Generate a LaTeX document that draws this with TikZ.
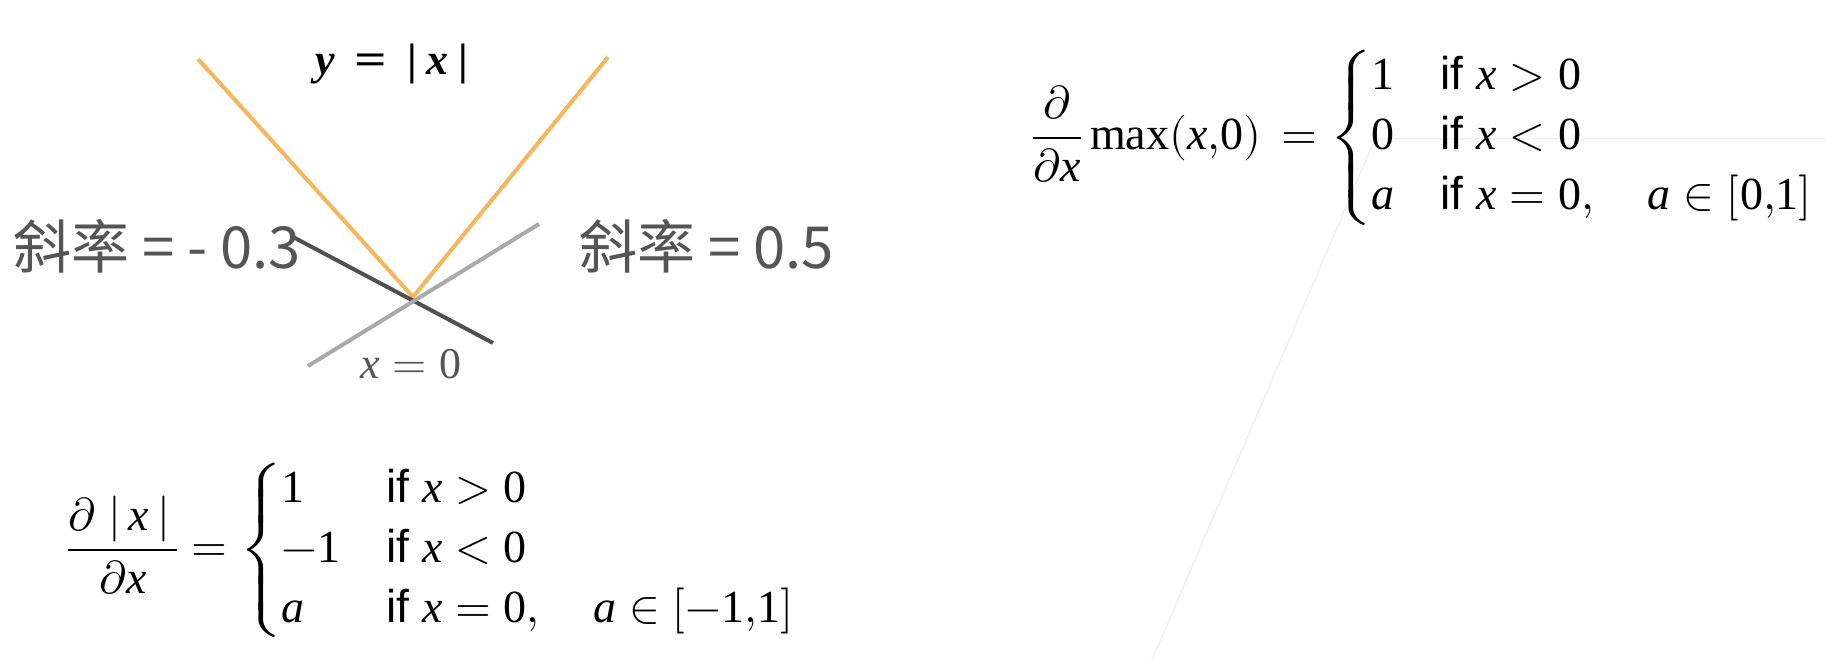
\documentclass[tikz,border=0pt]{standalone}
\usepackage{amsmath}
\usepackage{graphicx}
\usepackage{fontspec}
\usepackage{unicode-math}
\setmainfont{Liberation Serif}
\setmathfont{Latin Modern Math}
\setmathfont{Liberation Serif Italic}[range=it/{latin,Latin}]
\setmathfont{Liberation Serif}[range=up/{num}]
\newfontfamily\cjk{Noto Sans CJK SC}
\newfontfamily\casefont{Liberation Sans}
\usepackage{tikz}
\usetikzlibrary{positioning}
\definecolor{absorange}{HTML}{F8B65C}
\definecolor{subdark}{HTML}{505050}
\definecolor{sublight}{HTML}{AAAAAA}
\definecolor{labelgray}{HTML}{555555}
\definecolor{faintgray}{HTML}{EBEBEB}
\newcommand{\cif}{\text{\casefont if }}

\begin{document}
\begin{tikzpicture}[x=1pt,y=-1pt,every node/.style={inner sep=0pt},
  curve/.style={line width=4pt},
  slabel/.style={font=\fontsize{58}{64}\selectfont\cjk,text=labelgray,anchor=base west},
  eq/.style={font=\fontsize{46}{50}\selectfont,anchor=west}]
  \useasboundingbox (0,0) rectangle (1826,660);
  % faint guide lines behind the right formula
  \coordinate (fa) at (1826,139);
  \coordinate (fb) at (1375,139);
  \coordinate (fc) at (1150,665);
  \draw[faintgray,line width=1pt] (fa)--(fb)--(fc);
  % y=|x| with two sub-gradients at the kink
  \coordinate (vl) at (198,59);
  \coordinate (v) at (413,297);
  \coordinate (vr) at (608,57);
  \coordinate (da) at (293,237);
  \coordinate (db) at (493,343);
  \coordinate (la) at (308,366);
  \coordinate (lb) at (539,224);
  \draw[curve,absorange] (vl)--(v)--(vr);
  \draw[curve,subdark] (da)--(db);
  \draw[curve,sublight] (la)--(lb);
  \node[font=\fontsize{44}{50}\selectfont\bfseries,anchor=base west] (title) at (315,75)
    {\textit{y}\hspace{0.45em}\scalebox{1.3}[1]{=}\hspace{0.45em}|\hspace{0.22em}\textit{x}\hspace{0.22em}|};
  \node[slabel] (lslope) at (13,269) {斜率 = - 0.3};
  \node[slabel] (rslope) at (579,269) {斜率 = 0.5};
  \node[font=\fontsize{44}{50}\selectfont,text=labelgray,anchor=base] (kink) at (411,378) {$x=0$};
  % the two derivatives
  \node[eq] (dabs) at (67,550) {$\displaystyle\frac{\partial\;\lvert\,x\,\rvert\,}{\partial x}=\begin{cases}1&\cif x>0\\-1&\cif x<0\\a&\cif x=0,\quad a\in[-1{,}1]\end{cases}$};
  \node[eq] (drelu) at (1032,138) {$\displaystyle\frac{\partial}{\partial x}\max(x{,}0)\,=\begin{cases}1&\cif x>0\\0&\cif x<0\\a&\cif x=0,\quad a\in[0{,}1]\end{cases}$};
\end{tikzpicture}
\end{document}
